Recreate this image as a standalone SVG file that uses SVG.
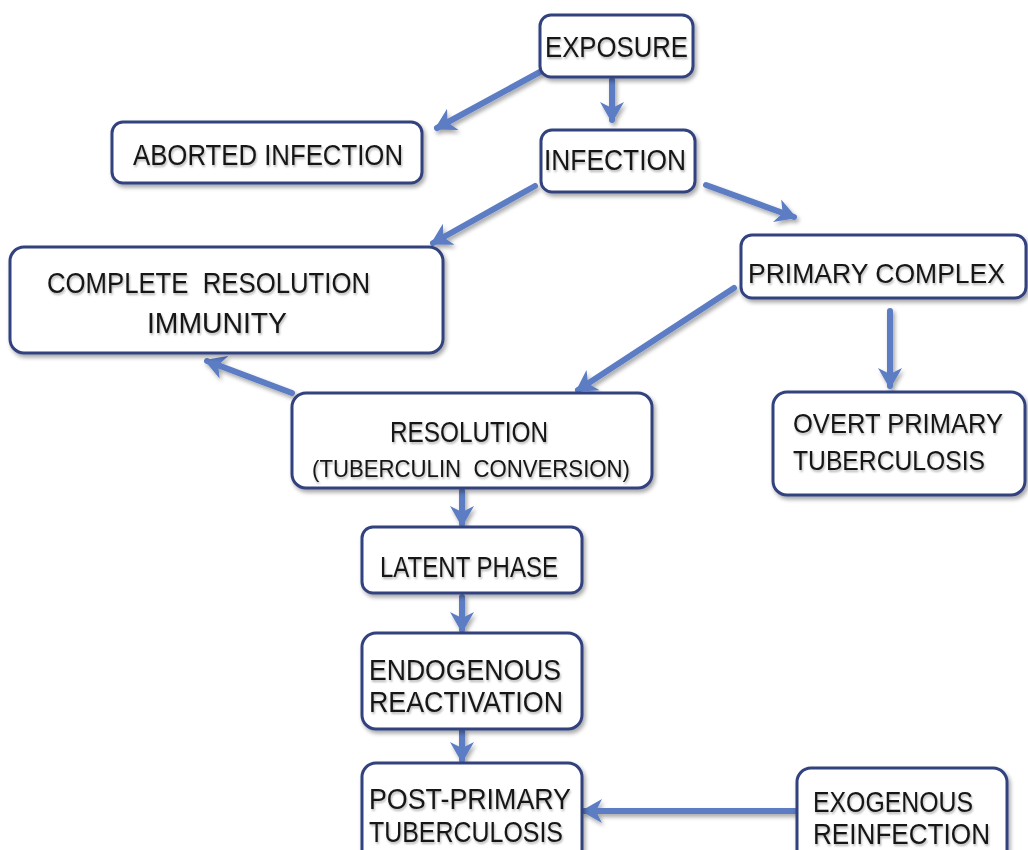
<svg xmlns="http://www.w3.org/2000/svg" width="1028" height="850" viewBox="0 0 1028 850">
<defs>
<filter id="sh" x="-10%" y="-10%" width="130%" height="140%">
<feGaussianBlur in="SourceAlpha" stdDeviation="2"/>
<feOffset dx="2" dy="3" result="b"/>
<feComponentTransfer><feFuncA type="linear" slope="0.35"/></feComponentTransfer>
<feMerge><feMergeNode/><feMergeNode in="SourceGraphic"/></feMerge>
</filter>
<filter id="tsh" x="-5%" y="-20%" width="110%" height="150%">
<feGaussianBlur in="SourceAlpha" stdDeviation="1.2"/>
<feOffset dx="1" dy="2"/>
<feComponentTransfer><feFuncA type="linear" slope="0.3"/></feComponentTransfer>
<feMerge><feMergeNode/><feMergeNode in="SourceGraphic"/></feMerge>
</filter>
<marker id="ah" markerUnits="userSpaceOnUse" markerWidth="26" markerHeight="26" refX="18" refY="13" orient="auto">
<path d="M0,1 L21,13 L0,25 L6,13 Z" fill="#5b7cc4"/>
</marker>
</defs>
<style>
.box{fill:#ffffff;stroke:#33427e;stroke-width:3}
.t{font-family:"Liberation Sans",Arial,sans-serif;font-size:30px;fill:#151515}
.r{font-size:28px}
.s{font-size:24px}
.c{fill:none;stroke:#5b7cc4;stroke-width:6;stroke-linecap:round;marker-end:url(#ah)}
</style>
<rect width="1028" height="850" fill="#ffffff"/>
<g id="connectors" filter="url(#sh)">
<line class="c" x1="540" y1="72" x2="437" y2="128"/>
<line class="c" x1="612" y1="80" x2="612" y2="120"/>
<line class="c" x1="535" y1="186" x2="433" y2="243"/>
<line class="c" x1="706" y1="185" x2="794" y2="217"/>
<line class="c" x1="734" y1="288" x2="578" y2="390"/>
<line class="c" x1="292" y1="393" x2="207" y2="361"/>
<line class="c" x1="890" y1="311" x2="890" y2="386"/>
<line class="c" x1="462" y1="491" x2="462" y2="524"/>
<line class="c" x1="462" y1="597" x2="462" y2="630"/>
<line class="c" x1="462" y1="731" x2="462" y2="760"/>
<line class="c" x1="795" y1="811" x2="584" y2="811"/>
</g>
<g id="exposure"><rect class="box" x="540" y="15" width="153" height="62" rx="11" filter="url(#sh)"/><text class="t" filter="url(#tsh)" x="545" y="57" textLength="143" lengthAdjust="spacingAndGlyphs">EXPOSURE</text></g>
<g id="infection"><rect class="box" x="541" y="130" width="154" height="62" rx="11" filter="url(#sh)"/><text class="t" filter="url(#tsh)" x="544" y="170" textLength="142" lengthAdjust="spacingAndGlyphs">INFECTION</text></g>
<g id="aborted"><rect class="box" x="112" y="122" width="310" height="61" rx="11" filter="url(#sh)"/><text class="t" filter="url(#tsh)" x="133" y="165" textLength="270" lengthAdjust="spacingAndGlyphs">ABORTED INFECTION</text></g>
<g id="complete"><rect class="box" x="10" y="247" width="433" height="106" rx="14" filter="url(#sh)"/><text class="t" filter="url(#tsh)" x="47" y="293" textLength="323" lengthAdjust="spacingAndGlyphs" xml:space="preserve">COMPLETE  RESOLUTION</text><text class="t" filter="url(#tsh)" x="147" y="333" textLength="140" lengthAdjust="spacingAndGlyphs">IMMUNITY</text></g>
<g id="primary"><rect class="box" x="741" y="235" width="285" height="63" rx="11" filter="url(#sh)"/><text class="t r" filter="url(#tsh)" x="748" y="283" textLength="257" lengthAdjust="spacingAndGlyphs">PRIMARY COMPLEX</text></g>
<g id="overt"><rect class="box" x="773" y="392" width="252" height="103" rx="14" filter="url(#sh)"/><text class="t r" filter="url(#tsh)" x="793" y="433" textLength="210" lengthAdjust="spacingAndGlyphs">OVERT PRIMARY</text><text class="t r" filter="url(#tsh)" x="793" y="470" textLength="192" lengthAdjust="spacingAndGlyphs">TUBERCULOSIS</text></g>
<g id="resolution"><rect class="box" x="292" y="393" width="360" height="95" rx="14" filter="url(#sh)"/><text class="t" filter="url(#tsh)" x="390" y="442" textLength="158" lengthAdjust="spacingAndGlyphs">RESOLUTION</text><text class="t s" filter="url(#tsh)" x="312" y="477" textLength="318" lengthAdjust="spacingAndGlyphs" xml:space="preserve">(TUBERCULIN  CONVERSION)</text></g>
<g id="latent"><rect class="box" x="362" y="527" width="220" height="66" rx="11" filter="url(#sh)"/><text class="t" filter="url(#tsh)" x="380" y="577" textLength="178" lengthAdjust="spacingAndGlyphs">LATENT PHASE</text></g>
<g id="endogenous"><rect class="box" x="362" y="633" width="220" height="96" rx="14" filter="url(#sh)"/><text class="t" filter="url(#tsh)" x="369" y="680" textLength="192" lengthAdjust="spacingAndGlyphs">ENDOGENOUS</text><text class="t" filter="url(#tsh)" x="369" y="712" textLength="194" lengthAdjust="spacingAndGlyphs">REACTIVATION</text></g>
<g id="postprimary"><rect class="box" x="362" y="763" width="220" height="110" rx="14" filter="url(#sh)"/><text class="t" filter="url(#tsh)" x="369" y="809" textLength="202" lengthAdjust="spacingAndGlyphs">POST-PRIMARY</text><text class="t" filter="url(#tsh)" x="369" y="842" textLength="194" lengthAdjust="spacingAndGlyphs">TUBERCULOSIS</text></g>
<g id="exogenous"><rect class="box" x="797" y="768" width="210" height="105" rx="14" filter="url(#sh)"/><text class="t" filter="url(#tsh)" x="813" y="812" textLength="160" lengthAdjust="spacingAndGlyphs">EXOGENOUS</text><text class="t" filter="url(#tsh)" x="813" y="844" textLength="177" lengthAdjust="spacingAndGlyphs">REINFECTION</text></g>
</svg>
